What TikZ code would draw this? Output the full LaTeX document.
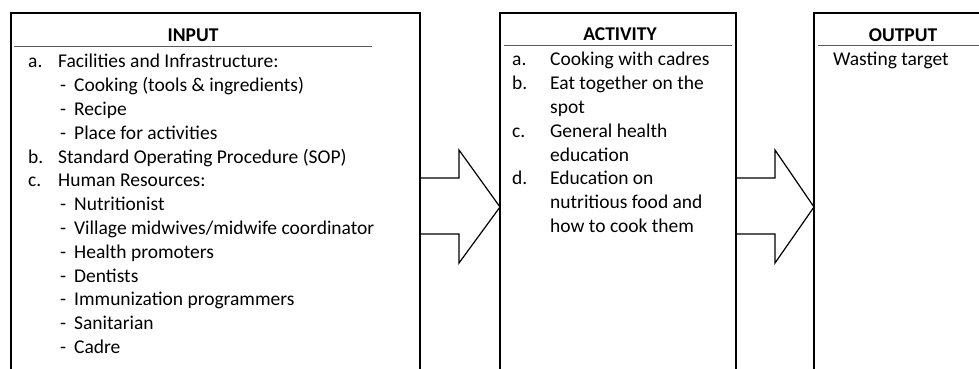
\documentclass[tikz,border=0pt]{standalone}
\usepackage{fontspec}
\setmainfont{Carlito}
\usetikzlibrary{positioning}

\begin{document}
\begin{tikzpicture}[
  x=1pt, y=-1pt,
  stagebox/.style={
    draw=black, line width=1.4pt,
    minimum width=#1, minimum height=370pt,
    anchor=north west, inner sep=0pt, outer sep=0pt
  },
  head/.style={font=\fontsize{19.5}{24}\selectfont\bfseries},
  headline/.style={draw=gray!70!black, line width=0.8pt},
  list/.style={
    anchor=north west, inner sep=0pt, align=left,
    font=\fontsize{19.5}{23.8}\selectfont
  },
  blockarrow/.style={draw=black, line width=1.2pt, line join=miter}
]

\useasboundingbox (0,0) rectangle (979,369);

% ---- Boxes ----
\node[stagebox=409pt] (input) at (11,13) {};
\node[stagebox=236pt] (activity) at (500,13) {};
\node[stagebox=181pt] (output) at (814,13) {};

% ---- Headers ----
\node[head] (inputhead) at (193,35) {INPUT};
\draw[headline] (14,46) -- (372,46);

\node[head] (activityhead) at (620,34) {ACTIVITY};
\draw[headline] (504,45) -- (732,45);

\node[head] (outputhead) at (903,35) {OUTPUT};
\draw[headline] (818,45) -- (990,45);

% ---- Input ----
\node[list] (inputlist) at (28,51) {%
  \begin{tabular}{@{}p{30pt}@{}p{16pt}@{}l@{}}
  a. & \multicolumn{2}{@{}l@{}}{Facilities and Infrastructure:}\\
     & \hspace{2pt}- & Cooking (tools \& ingredients)\\
     & \hspace{2pt}- & Recipe\\
     & \hspace{2pt}- & Place for activities\\
  b. & \multicolumn{2}{@{}l@{}}{Standard Operating Procedure (SOP)}\\
  c. & \multicolumn{2}{@{}l@{}}{Human Resources:}\\
     & \hspace{2pt}- & Nutritionist\\
     & \hspace{2pt}- & Village midwives/midwife coordinator\\
     & \hspace{2pt}- & Health promoters\\
     & \hspace{2pt}- & Dentists\\
     & \hspace{2pt}- & Immunization programmers\\
     & \hspace{2pt}- & Sanitarian\\
     & \hspace{2pt}- & Cadre
  \end{tabular}};

% ---- Activity ----
\node[list] (activitylist) at (512,49) {%
  \begin{tabular}{@{}p{38pt}@{}l@{}}
  a. & Cooking with cadres\\
  b. & Eat together on the\\
     & spot\\
  c. & General health\\
     & education\\
  d. & Education on\\
     & nutritious food and\\
     & how to cook them
  \end{tabular}};

% ---- Output ----
\node[list] (outputlist) at (833,49) {%
  \begin{tabular}{@{}l@{}}
  Wasting target
  \end{tabular}};

% Flèches entre les boîtes
\draw[blockarrow] (input.east |- 0,178) -- (459,178) -- (459,150)
  -- (activity.west |- 0,207) -- (459,263) -- (459,234)
  -- (input.east |- 0,234);

\draw[blockarrow] (activity.east |- 0,178) -- (775,178) -- (775,150)
  -- (output.west |- 0,207) -- (775,263) -- (775,234)
  -- (activity.east |- 0,234);

\end{tikzpicture}
\end{document}
